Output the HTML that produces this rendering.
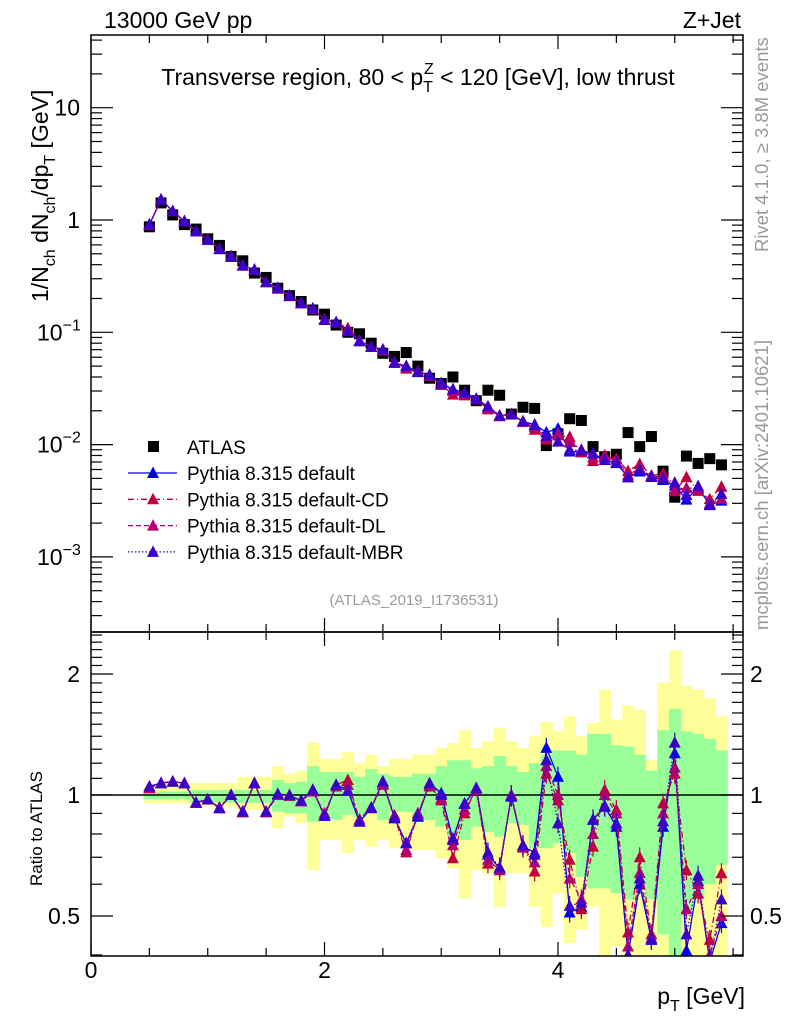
<!DOCTYPE html>
<html><head><meta charset="utf-8"><style>
html,body{margin:0;padding:0;background:#fff;}
svg{display:block;font-family:"Liberation Sans",sans-serif;}
</style></head><body>
<svg id="chart" width="786" height="1024" viewBox="0 0 786 1024" xmlns="http://www.w3.org/2000/svg">
<g id="bands"></g>
<g id="ratio"></g>
<g id="main"></g>
<g id="axes"></g>
<text x="104" y="28" font-size="23">13000 GeV pp</text>
<text x="741" y="28" font-size="23" text-anchor="end">Z+Jet</text>
<text x="418" y="85" font-size="23" text-anchor="middle">Transverse region, 80 &lt; p<tspan font-size="16" dy="7">T</tspan><tspan font-size="16" dx="-9" dy="-18">Z</tspan><tspan dy="11"> &lt; 120 [GeV], low thrust</tspan></text>
<text transform="translate(48,302) rotate(-90)" font-size="23">1/N<tspan font-size="16" dy="7">ch</tspan><tspan dy="-7"> dN</tspan><tspan font-size="16" dy="7">ch</tspan><tspan dy="-7">/dp</tspan><tspan font-size="16" dy="7">T</tspan><tspan dy="-7"> [GeV]</tspan></text>
<text transform="translate(42,886) rotate(-90)" font-size="17">Ratio to ATLAS</text>
<text transform="translate(768,252) rotate(-90)" font-size="18.5" fill="#999">Rivet 4.1.0, ≥ 3.8M events</text>
<text transform="translate(768,630) rotate(-90)" font-size="18.5" fill="#999">mcplots.cern.ch [arXiv:2401.10621]</text>
<text x="414" y="605" font-size="15" fill="#999" text-anchor="middle">(ATLAS_2019_I1736531)</text>
<text x="745" y="1004" font-size="23" text-anchor="end">p<tspan font-size="16" dy="7">T</tspan><tspan dy="-7"> [GeV]</tspan></text>
<g id="legend"></g>
</svg>
<script>
const xCenters=[0.5,0.6,0.7,0.8,0.9,1.0,1.1,1.2,1.3,1.4,1.5,1.6,1.7,1.8,1.9,2.0,2.1,2.2,2.3,2.4,2.5,2.6,2.7,2.8,2.9,3.0,3.1,3.2,3.3,3.4,3.5,3.6,3.7,3.8,3.9,4.0,4.1,4.2,4.3,4.4,4.5,4.6,4.7,4.8,4.9,5.0,5.1,5.2,5.3,5.4];
const atlas=[0.87,1.42,1.11,0.91,0.83,0.68,0.594,0.474,0.433,0.337,0.308,0.247,0.212,0.188,0.158,0.145,0.116,0.10,0.097,0.08,0.065,0.061,0.066,0.05,0.039,0.035,0.040,0.0305,0.0246,0.0305,0.0275,0.0187,0.0215,0.021,0.0098,0.0125,0.017,0.0164,0.0096,0.0078,0.0082,0.0128,0.0096,0.0118,0.0058,0.0034,0.0079,0.0068,0.0075,0.0066];
const ratioDefault=[1.05,1.072,1.08,1.07,0.958,0.975,0.927,1.0,0.909,1.072,0.909,1.006,0.998,0.968,1.03,0.887,1.06,1.025,0.858,0.927,1.08,0.875,0.758,0.883,1.07,1.01,0.773,0.953,1.04,0.71,0.657,0.995,0.744,0.72,1.31,1.11,0.51,0.527,0.867,0.935,0.834,0.40,0.60,0.436,0.834,1.27,0.41,0.61,0.385,0.48];
const ratioCD=[1.04,1.07,1.08,1.07,0.955,0.975,0.93,1.0,0.905,1.07,0.905,1.0,0.995,0.965,1.03,0.89,1.06,1.09,0.86,0.93,1.07,0.88,0.72,0.90,1.06,0.97,0.696,0.90,1.04,0.675,0.66,1.0,0.75,0.645,1.13,0.97,0.69,0.52,0.744,1.03,0.918,0.455,0.70,0.45,0.953,1.13,0.65,0.569,0.436,0.639];
const ratioDL=[1.04,1.07,1.08,1.07,0.955,0.975,0.93,1.0,0.91,1.07,0.91,1.0,1.0,0.965,1.02,0.90,1.05,1.06,0.87,0.93,1.06,0.89,0.73,0.90,1.05,0.98,0.75,0.92,1.03,0.69,0.65,1.0,0.74,0.68,1.18,1.0,0.62,0.55,0.80,1.0,0.90,0.42,0.64,0.44,0.90,1.17,0.52,0.60,0.40,0.50];
const ratioMBR=[1.05,1.07,1.08,1.07,0.958,0.975,0.927,1.0,0.909,1.07,0.909,1.006,0.998,0.968,1.03,0.887,1.06,1.025,0.86,0.93,1.08,0.88,0.76,0.89,1.07,1.0,0.78,0.95,1.04,0.72,0.66,0.99,0.75,0.71,1.22,0.85,0.53,0.54,0.87,0.94,0.85,0.40,0.62,0.44,0.86,1.35,0.45,0.63,0.39,0.55];
const yellowUp=[1.05,1.05,1.055,1.057,1.07,1.07,1.07,1.07,1.11,1.11,1.11,1.18,1.13,1.15,1.35,1.23,1.23,1.28,1.20,1.26,1.18,1.23,1.23,1.26,1.26,1.31,1.345,1.45,1.31,1.36,1.47,1.36,1.31,1.40,1.52,1.44,1.57,1.40,1.51,1.83,1.54,1.67,1.63,1.22,1.90,2.29,1.87,1.83,1.74,1.57];
const yellowDn=[0.953,0.953,0.953,0.953,0.935,0.935,0.935,0.935,0.918,0.918,0.918,0.826,0.883,0.85,0.65,0.773,0.773,0.716,0.773,0.744,0.773,0.737,0.737,0.73,0.73,0.696,0.657,0.553,0.65,0.639,0.527,0.639,0.639,0.527,0.47,0.569,0.428,0.462,0.527,0.35,0.42,0.40,0.35,0.35,0.35,0.35,0.35,0.35,0.35,0.35];
const greenUp=[1.02,1.02,1.02,1.02,1.03,1.03,1.03,1.03,1.03,1.03,1.03,1.09,1.07,1.08,1.18,1.14,1.14,1.14,1.11,1.16,1.13,1.11,1.11,1.13,1.13,1.18,1.22,1.22,1.165,1.18,1.25,1.18,1.14,1.20,1.26,1.29,1.29,1.26,1.42,1.42,1.33,1.32,1.26,1.15,1.45,1.64,1.44,1.42,1.38,1.29];
const greenDn=[0.975,0.975,0.975,0.975,0.955,0.955,0.955,0.955,0.955,0.955,0.955,0.909,0.90,0.90,0.858,0.867,0.867,0.892,0.88,0.909,0.867,0.909,0.909,0.867,0.867,0.834,0.788,0.773,0.834,0.81,0.788,0.85,0.842,0.737,0.737,0.758,0.716,0.626,0.586,0.586,0.57,0.55,0.60,0.55,0.45,0.35,0.50,0.55,0.60,0.67];
const mainYTicks=[10,1,0.1,0.01,0.001];
const mainYLabels=["10","1","10","10","10"];
const mainYExp=["","","−1","−2","−3"];
const ratioYTicks=[2,1,0.5];
const ratioYLabels=["2","1","0.5"];
const xTickLabels=["0","2","4"];

const NS="http://www.w3.org/2000/svg";
const L=91,R=743,T=35,MB=632,RB=956;
const sx=v=>L+v*116.75;
const sy=v=>220-112.3*Math.log10(v);
const ry=v=>795-402*Math.log10(v);
function mk(tag,attrs,parent){const e=document.createElementNS(NS,tag);for(const k in attrs)e.setAttribute(k,attrs[k]);parent.appendChild(e);return e;}

const defs=mk('defs',{},document.getElementById('chart'));
const cp1=mk('clipPath',{id:'cpMain'},defs);mk('rect',{x:L,y:T,width:R-L,height:MB-T},cp1);
const cp2=mk('clipPath',{id:'cpRatio'},defs);mk('rect',{x:L,y:MB,width:R-L,height:RB-MB},cp2);

const bands=document.getElementById('bands');
bands.setAttribute('clip-path','url(#cpRatio)');
xCenters.forEach((x,i)=>{
  const y1=ry(yellowUp[i]),y2=ry(yellowDn[i]);
  const b=mk('rect',{x:sx(x-0.05),y:y1,width:116.75*0.1+0.5,height:y2-y1,fill:'#ffff99'},bands);
  
  
});
xCenters.forEach((x,i)=>{
  const y1=ry(greenUp[i]),y2=ry(greenDn[i]);
  const b=mk('rect',{x:sx(x-0.05),y:y1,width:116.75*0.1+0.5,height:y2-y1,fill:'#99ff99'},bands);
  
  
});

const series=[
 {name:'default',ratio:ratioDefault,color:'#0000ee',dash:''},
 {name:'default-cd',ratio:ratioCD,color:'#c0003c',dash:'6,3,1,3'},
 {name:'default-dl',ratio:ratioDL,color:'#b4006e',dash:'5,3'},
 {name:'default-mbr',ratio:ratioMBR,color:'#3c00c8',dash:'1.5,2'}
];
function tri(g,x,y,c){return mk('polygon',{points:`${x-6},${y+5} ${x+6},${y+5} ${x},${y-6.5}`,fill:c},g);}

const rg=document.getElementById('ratio');
rg.setAttribute('clip-path','url(#cpRatio)');
const one=mk('line',{x1:L,x2:R,y1:ry(1),y2:ry(1),stroke:'#000','stroke-width':1.5},rg);


series.forEach(s=>{
  const g=mk('g',{},rg);
  
  
  const pts=xCenters.map((x,i)=>sx(x)+','+ry(s.ratio[i])).join(' ');
  mk('polyline',{points:pts,fill:'none',stroke:s.color,'stroke-width':1.3,'stroke-dasharray':s.dash},g);
  xCenters.forEach((x,i)=>{
    const y=ry(s.ratio[i]);const e=i>28?10:3;
    mk('line',{x1:sx(x),x2:sx(x),y1:y-e,y2:y+e,stroke:s.color,'stroke-width':1.2},g);
    const t=tri(g,sx(x),y,s.color);
    
    
  });
});

const mg=document.getElementById('main');
mg.setAttribute('clip-path','url(#cpMain)');
xCenters.forEach((x,i)=>{
  const r=mk('rect',{x:sx(x)-5.5,y:sy(atlas[i])-5.5,width:11,height:11,fill:'#000'},mg);
  
  
});
series.forEach(s=>{
  const g=mk('g',{},mg);
  
  
  const pts=xCenters.map((x,i)=>sx(x)+','+sy(atlas[i]*s.ratio[i])).join(' ');
  mk('polyline',{points:pts,fill:'none',stroke:s.color,'stroke-width':1.3,'stroke-dasharray':s.dash},g);
  xCenters.forEach((x,i)=>{
    const t=tri(g,sx(x),sy(atlas[i]*s.ratio[i]),s.color);
    
    
  });
});

const ax=document.getElementById('axes');
mk('rect',{x:L,y:T,width:R-L,height:MB-T,fill:'none',stroke:'#000','stroke-width':1.5},ax);
mk('rect',{x:L,y:MB,width:R-L,height:RB-MB,fill:'none',stroke:'#000','stroke-width':1.5},ax);
const ln=(x1,y1,x2,y2)=>mk('line',{x1,y1,x2,y2,stroke:'#000','stroke-width':1.2},ax);
for(let v=0;v<=5.5;v+=0.5){
  const x=sx(v);const len=(Math.abs(v%2)<1e-6)?14:8;
  ln(x,T,x,T+len);ln(x,MB,x,MB-len);ln(x,MB,x,MB+len);ln(x,RB,x,RB-len);
}
for(let d=-4;d<=1;d++){
  for(let m=1;m<10;m++){
    const v=m*Math.pow(10,d);const y=sy(v);if(y<T||y>MB)continue;
    const len=m===1?22:11;ln(L,y,L+len,y);ln(R,y,R-len,y);
  }
}
[0.4,0.5,0.6,0.7,0.8,0.9,1,1.1,1.2,1.3,1.4,1.5,1.6,1.7,1.8,1.9,2,2.1,2.2,2.3,2.4,2.5].forEach(v=>{
  const y=ry(v);if(y<MB||y>RB)return;const len=ratioYTicks.includes(v)?22:11;ln(L,y,L+len,y);ln(R,y,R-len,y);
});
mainYTicks.forEach((v,i)=>{
  const t=mk('text',{x:80,y:sy(v)+8,'font-size':23,'text-anchor':'end'},ax);
  t.textContent=mainYLabels[i];
  if(mainYExp[i]){const s=mk('tspan',{'font-size':16,dy:-10},t);s.textContent=mainYExp[i];t.setAttribute('text-anchor','start');t.setAttribute('x',37);}
  
  
});
ratioYTicks.forEach((v,i)=>{
  const t=mk('text',{x:80,y:ry(v)+8,'font-size':23,'text-anchor':'end'},ax);t.textContent=ratioYLabels[i];
  
  
  const t2=mk('text',{x:750,y:ry(v)+8,'font-size':23},ax);t2.textContent=ratioYLabels[i];
  
  
});
xTickLabels.forEach((s,i)=>{
  const t=mk('text',{x:sx(i*2),y:978,'font-size':23,'text-anchor':'middle'},ax);t.textContent=s;
  
  
});

const lg=document.getElementById('legend');
const lsq=mk('rect',{x:148,y:441,width:11,height:11,fill:'#000'},lg);


const lt=mk('text',{x:187,y:454,'font-size':19},lg);lt.textContent='ATLAS';


const labels=['Pythia 8.315 default','Pythia 8.315 default-CD','Pythia 8.315 default-DL','Pythia 8.315 default-MBR'];
series.forEach((s,i)=>{
  const y=473+i*26.3;
  const g=mk('g',{},lg);
  
  
  mk('line',{x1:128,x2:177,y1:y,y2:y,stroke:s.color,'stroke-width':1.3,'stroke-dasharray':s.dash},g);
  tri(g,153,y,s.color);
  const t=mk('text',{x:187,y:y+7,'font-size':19},g);t.textContent=labels[i];
});
</script>
</body></html>
